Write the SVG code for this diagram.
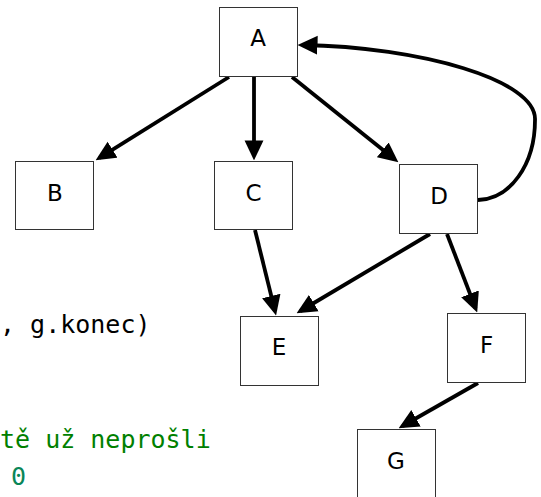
<svg xmlns="http://www.w3.org/2000/svg" width="541" height="497" viewBox="0 0 541 497">
<defs>
<style>
.box{fill:#fff;stroke:#333;stroke-width:1}
.lbl{font-family:"DejaVu Sans",sans-serif;font-size:23px;fill:#000;text-anchor:middle}
.edge{fill:none;stroke:#000;stroke-width:3.8;stroke-linecap:butt}
.code{font-family:"DejaVu Sans Mono","Liberation Mono",monospace;font-size:25px}
</style>
<marker id="arr" markerUnits="userSpaceOnUse" markerWidth="20" markerHeight="20" refX="14" refY="8.5" orient="auto" viewBox="0 0 18 17">
<path d="M0,0 L18,8.5 L0,17 z" fill="#000"/>
</marker>
</defs>
<rect width="541" height="497" fill="#fff"/>
<g id="code">
<text class="code" x="0" y="333" fill="#000">, g.konec)</text>
<text class="code" x="0" y="448" fill="#008000">tě už neprošli</text>
<text class="code" x="18.5" y="485" fill="#098658" text-anchor="middle">0</text>
</g>
<g id="edges">
<path class="edge" d="M229,77 L99.4,157.9" marker-end="url(#arr)"/>
<path class="edge" d="M254,77 L254,156" marker-end="url(#arr)"/>
<path class="edge" d="M292,77 L394.9,159.5" marker-end="url(#arr)"/>
<path class="edge" d="M478,200 C510,199 535,165 535,120 C537,80 420,47 302,45" marker-end="url(#arr)"/>
<path class="edge" d="M255,230 L275,311.1" marker-end="url(#arr)"/>
<path class="edge" d="M430,234 L300.4,311" marker-end="url(#arr)"/>
<path class="edge" d="M447,234 L475.6,308.3" marker-end="url(#arr)"/>
<path class="edge" d="M478,383 L402.5,426" marker-end="url(#arr)"/>
</g>
<g id="A"><rect class="box" x="219.5" y="7.5" width="78" height="69"/><text class="lbl" x="258" y="46">A</text></g>
<g id="B"><rect class="box" x="15.5" y="161.5" width="78" height="68"/><text class="lbl" x="55" y="201">B</text></g>
<g id="C"><rect class="box" x="214.5" y="161.5" width="78" height="68"/><text class="lbl" x="253.5" y="201">C</text></g>
<g id="D"><rect class="box" x="399.5" y="164.5" width="78" height="69"/><text class="lbl" x="439" y="204">D</text></g>
<g id="E"><rect class="box" x="240.5" y="316.5" width="78" height="69"/><text class="lbl" x="279" y="355">E</text></g>
<g id="F"><rect class="box" x="447.5" y="313.5" width="78" height="69"/><text class="lbl" x="486.5" y="353">F</text></g>
<g id="G"><rect class="box" x="357.5" y="429.5" width="78" height="69"/><text class="lbl" x="396" y="469">G</text></g>
</svg>
